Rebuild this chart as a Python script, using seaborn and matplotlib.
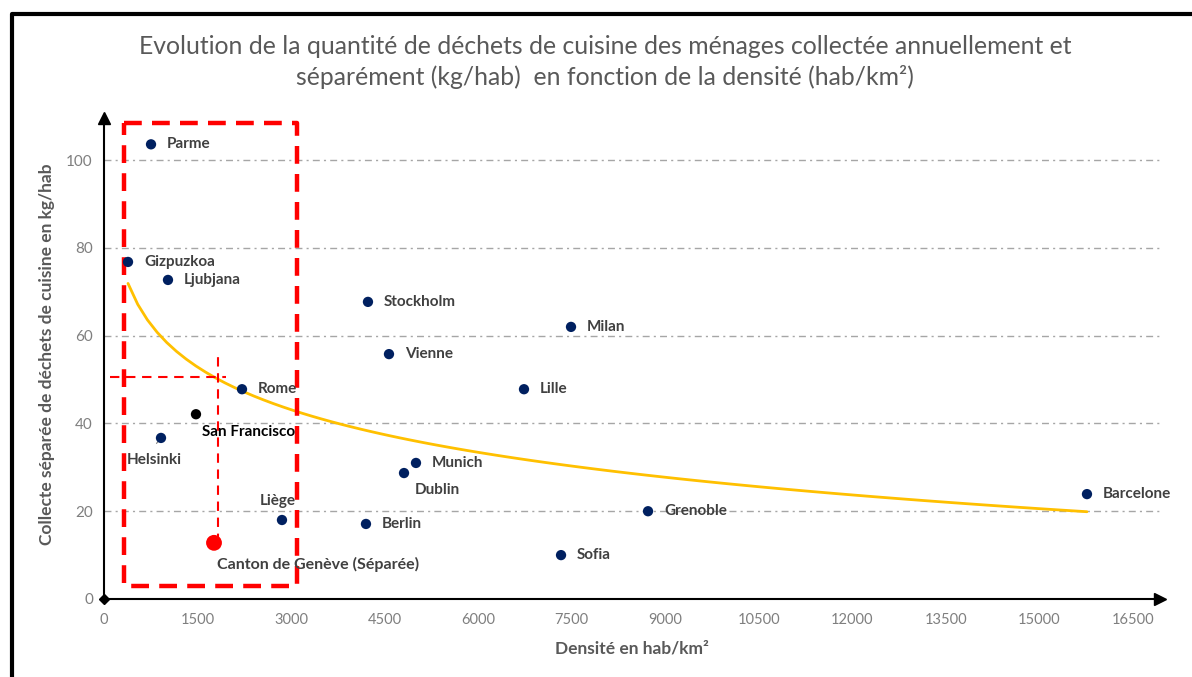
import numpy as np
import pandas as pd
import seaborn as sns
import matplotlib.pyplot as plt
from matplotlib.lines import Line2D

# donnees
villes = ["Parme", "Gizpuzkoa", "Ljubjana", "Stockholm", "Milan", "Vienne", "Lille", "Rome",
          "Helsinki", "Munich", "Dublin", "Liège", "Berlin", "Grenoble", "Sofia", "Barcelone"]
densite = [754, 385, 1026, 4233, 7489, 4570, 6735, 2213, 914, 5003, 4811, 2854, 4201, 8724, 7329, 15763]
collecte = [103.6, 76.8, 72.7, 67.7, 62.0, 55.8, 47.8, 47.8, 36.7, 31.0, 28.7, 18.0, 17.1, 20.0, 10.0, 23.9]

sf_nom = "San Francisco"
sf_densite = [1475]
sf_collecte = [42.1]

geneve_nom = "Canton de Genève (Séparée)"
geneve_densite = [1764]
geneve_collecte = [12.8]

x_ticks = list(range(0, 16501, 1500))
y_ticks = [0, 20, 40, 60, 80, 100]

# zones en pointilles rouges (x0, x1, y0, y1)
grande_zone = (321, 3095, 3.0, 108.4)
petite_zone_h = (96, 1956, 50.6)
petite_zone_v = (1828, 12.8, 56.0)

# decalage des etiquettes en pixels (dx, dy, alignement)
decalages = {
    "Helsinki": (-7, -22, "center"),
    "Dublin": (33, -17, "center"),
    "Liège": (-4, 19, "center"),
}

sns.set_theme(style="white")
plt.rcParams["font.family"] = ["Lato", "DejaVu Sans"]

bleu = "#002060"
gris_txt = "#404040"

df = pd.DataFrame({"ville": villes, "densite": densite, "collecte": collecte})
df_tous = pd.DataFrame({
    "densite": densite + sf_densite + geneve_densite,
    "collecte": collecte + sf_collecte + geneve_collecte,
})

fig = plt.figure(figsize=(11.92, 6.77), dpi=100)
ax = fig.add_axes([104 / 1192, 1 - 599 / 677, (1160 - 104) / 1192, (599 - 118) / 677])

# grille horizontale
for yv in y_ticks[1:]:
    ax.axhline(yv, color="#A6A6A6", lw=1, linestyle=(0, (5, 3, 1.5, 3)), zorder=0)

# courbe de tendance logarithmique
sns.regplot(data=df_tous, x="densite", y="collecte", logx=True, ci=None, scatter=False,
            truncate=True, ax=ax, line_kws={"color": "#FFC000", "lw": 2.0, "zorder": 2})

sns.scatterplot(data=df, x="densite", y="collecte", color=bleu, s=55, edgecolor="none",
                ax=ax, zorder=4)
sns.scatterplot(x=sf_densite, y=sf_collecte, color="black", s=55, edgecolor="none", ax=ax, zorder=4)
sns.scatterplot(x=geneve_densite, y=geneve_collecte, color="#FF0000", s=130, edgecolor="none",
                ax=ax, zorder=4)

# zones rouges
x0, x1, y0, y1 = grande_zone
ax.plot([x0, x1, x1, x0, x0], [y1, y1, y0, y0, y1], color="#FF0000", lw=3.2,
        dashes=(4, 2.3), zorder=3, clip_on=False)
hx0, hx1, hy = petite_zone_h
ax.plot([hx0, hx1], [hy, hy], color="#FF0000", lw=1.5, dashes=(4.5, 3.2), zorder=3)
vx, vy0, vy1 = petite_zone_v
ax.plot([vx, vx], [vy0, vy1], color="#FF0000", lw=1.5, dashes=(4.5, 3.2), zorder=3)

# etiquettes
for v, xv, yv in zip(villes, densite, collecte):
    dx, dy, ha = decalages.get(v, (16, 0, "left"))
    ax.annotate(v, (xv, yv), xytext=(dx * 0.72, dy * 0.72), textcoords="offset points",
                ha=ha, va="center", fontsize=11, fontweight="bold", color=gris_txt, zorder=5)
ax.annotate("", (densite[villes.index("Helsinki")], collecte[villes.index("Helsinki")]),
            xytext=(-4.5, -5.5), textcoords="offset points",
            arrowprops=dict(arrowstyle="-", color="#7F7F7F", lw=0.8))
ax.annotate(sf_nom, (sf_densite[0], sf_collecte[0]), xytext=(6 * 0.72, -18 * 0.72),
            textcoords="offset points", ha="left", va="center", fontsize=11,
            fontweight="bold", color="black", zorder=5)
ax.annotate(geneve_nom, (geneve_densite[0], geneve_collecte[0]), xytext=(3 * 0.72, -22 * 0.72),
            textcoords="offset points", ha="left", va="center", fontsize=11.5,
            fontweight="bold", color=gris_txt, zorder=5)

# axes
ax.set_xlim(0, 16934)
ax.set_ylim(0, 109.6)
ax.set_xticks(x_ticks)
ax.set_yticks(y_ticks)
ax.set_xticklabels([str(t) for t in x_ticks])
ax.set_xlabel("")
ax.set_ylabel("")
for s in ["top", "right"]:
    ax.spines[s].set_visible(False)
for s in ["left", "bottom"]:
    ax.spines[s].set_color("black")
    ax.spines[s].set_linewidth(1.5)
ax.tick_params(axis="both", direction="out", length=4, width=1.5, color="black",
               labelcolor="#7F7F7F", labelsize=10.5, pad=6)
ax.tick_params(axis="y", pad=4, labelsize=11)
ax.plot(1, 0, ">", color="black", ms=8, transform=ax.transAxes, clip_on=False)
ax.plot(0, 1, "^", color="black", ms=8, transform=ax.transAxes, clip_on=False)
ax.plot(0, 0, "D", color="black", ms=5, transform=ax.transAxes, clip_on=False)

fig.text(605 / 1192, 1 - 62 / 677,
         "Evolution de la quantité de déchets de cuisine des ménages collectée annuellement et\n"
         "séparément (kg/hab)  en fonction de la densité (hab/km²)",
         ha="center", va="center", fontsize=17.8, color="#595959", linespacing=1.35)
fig.text(632 / 1192, 1 - 648 / 677, "Densité en hab/km²", ha="center", va="center",
         fontsize=12.5, fontweight="bold", color="#595959")
fig.text(47 / 1192, 1 - 354 / 677, "Collecte séparée de déchets de cuisine en kg/hab",
         ha="center", va="center", rotation=90, fontsize=12.5, fontweight="bold", color="#595959")

# cadre
fig.add_artist(Line2D([12 / 1192, 12 / 1192, 1], [0, 1 - 14 / 677, 1 - 14 / 677],
                      transform=fig.transFigure, color="black", lw=3))

fig.savefig("out.png", dpi=100)
